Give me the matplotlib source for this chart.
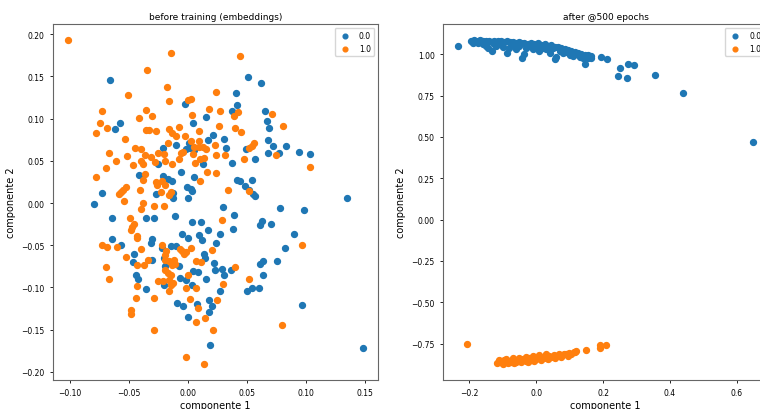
import numpy as np
import matplotlib
matplotlib.use("Agg")
import matplotlib.pyplot as plt

# before training: class 0.0 (blue) and 1.0 (orange)
before_x0 = [-0.0661, 0.0506, 0.0619, 0.0404, 0.0418, -0.0028, 0.0376, 0.065, 0.0155, 0.0042,
             -0.0573, -0.0613, 0.0667, 0.0686, 0.0212, 0.0169, 0.0308, 0.0681, 0.072, 0.0828,
             0.0319, -0.0209, -0.0099, 0.0006, 0.0014, -0.0014, 0.0051, 0.0494, 0.0681, 0.0771,
             0.0938, 0.1034, 0.0571, 0.037, 0.013, -0.0257, -0.0056, -0.0415, -0.0212, -0.0167,
             -0.0136, 0.0048, 0.0418, 0.0444, 0.054, 0.0486, 0.0514, 0.0548, 0.0565, -0.0008,
             0.0028, 0.0034, -0.0124, -0.0274, -0.013, -0.0003, -0.0723, -0.0799, 0.135, 0.0294,
             0.0782, 0.0983, -0.0644, -0.0353, -0.0288, -0.0107, 0.039, 0.0037, 0.011, 0.0624,
             0.0607, 0.0706, 0.0384, 0.0167, -0.0048, 0.0268, -0.0003, 0.0093, 0.0116, -0.0641,
             -0.0568, -0.0302, -0.0311, 0.024, 0.0901, 0.0822, -0.0147, -0.0102, -0.0223, -0.0455,
             -0.0463, -0.0308, -0.0201, 0.0138, 0.0144, 0.0223, 0.0607, 0.0633, 0.0757, -0.0195,
             -0.0079, 0.004, 0.0085, 0.0232, 0.0291, 0.0364, 0.0308, 0.0633, -0.0438, -0.0424,
             -0.0065, 0.0155, -0.002, -0.0203, 0.0031, -0.0356, 0.0268, 0.05, 0.0545, 0.0599,
             -0.009, -0.004, 0.0076, 0.0175, 0.0206, 0.0969, 0.0175, 0.0003, 0.0184, 0.1483]
before_y0 = [0.1455, 0.1495, 0.1418, 0.1307, 0.1165, 0.1173, 0.109, 0.1086, 0.1023, 0.0952,
             0.0952, 0.0873, 0.0972, 0.0889, 0.0802, 0.075, 0.0762, 0.075, 0.0671, 0.0675,
             0.0656, 0.0648, 0.0687, 0.0711, 0.0656, 0.0636, 0.0624, 0.0636, 0.0592, 0.0592,
             0.0604, 0.0577, 0.0521, 0.0478, 0.0458, 0.0458, 0.0367, 0.0328, 0.032, 0.0288,
             0.0265, 0.0308, 0.0276, 0.0261, 0.0276, 0.0205, 0.0158, 0.0103, 0.0079, 0.019,
             0.0162, 0.0138, 0.0122, 0.0107, 0.0059, 0.0059, 0.0115, -0.0008, 0.0059, -0.0051,
             -0.0063, -0.0083, -0.0174, -0.0174, -0.0174, -0.0154, -0.0146, -0.0229, -0.0229, -0.0209,
             -0.0257, -0.0245, -0.0304, -0.032, -0.0363, -0.0363, -0.0419, -0.0383, -0.0434, -0.043,
             -0.0502, -0.043, -0.047, -0.047, -0.0363, -0.0537, -0.0509, -0.0509, -0.0533, -0.0608,
             -0.0699, -0.0671, -0.0648, -0.0608, -0.0652, -0.0711, -0.0727, -0.0691, -0.0691, -0.0746,
             -0.0746, -0.081, -0.0818, -0.079, -0.0786, -0.0794, -0.0849, -0.0853, -0.0849, -0.0901,
             -0.0885, -0.0897, -0.0916, -0.0976, -0.0968, -0.1023, -0.1043, -0.1039, -0.1007, -0.1007,
             -0.1189, -0.122, -0.1201, -0.1153, -0.1216, -0.1212, -0.1291, -0.1351, -0.1686, -0.1722]

before_x1 = [-0.1017, -0.0141, 0.0443, -0.035, -0.0181, 0.0237, -0.0508, -0.0158, 0.0003, 0.0025,
             0.0178, -0.0353, -0.0726, 0.0274, 0.0427, 0.0712, 0.0037, -0.0415, -0.0308, 0.0387,
             -0.074, -0.0686, -0.0774, 0.0805, 0.026, -0.0356, -0.0333, -0.0268, -0.0164, -0.0079,
             -0.0136, 0.0096, 0.0395, 0.0446, -0.0099, -0.0023, -0.0531, -0.0167, 0.0028, 0.0093,
             0.0556, 0.054, 0.0514, -0.0449, -0.0401, 0.0093, 0.0048, 0.0124, 0.0232, 0.0153,
             -0.0664, -0.0254, -0.0062, -0.004, -0.0514, -0.0367, -0.0206, 0.0042, 0.0237, 0.0316,
             0.0749, -0.061, -0.0395, -0.0316, -0.0277, -0.0195, -0.0079, 0.0099, 0.0133, 0.0477,
             -0.0463, -0.0376, -0.0133, 0.0059, -0.0692, 0.1031, 0.0161, 0.024, -0.0364, -0.0384,
             -0.0274, -0.0218, 0.0102, -0.0782, -0.0263, -0.0192, -0.0528, -0.0551, -0.0568, -0.0585,
             -0.0404, -0.0229, -0.0141, -0.0158, 0.0342, 0.0517, -0.0545, -0.0384, -0.0393, -0.0291,
             -0.0203, 0.0285, -0.0494, -0.0458, -0.0472, -0.0483, -0.0429, -0.0435, -0.0729, -0.0684,
             -0.0596, 0.0966, -0.0395, -0.0218, -0.0068, -0.0048, -0.002, -0.0034, 0.0025, 0.0203,
             -0.0184, -0.0192, -0.0528, -0.0342, -0.0192, -0.0161, -0.0121, -0.0435, -0.0373, -0.0692,
             -0.0136, -0.0113, 0.0071, 0.0107, 0.0398, -0.0198, -0.0169, -0.0141, 0.0003, -0.0669,
             0.052, -0.0251, -0.0209, -0.0161, -0.0127, -0.0141, 0.0299, -0.0435, -0.0441, -0.0285,
             -0.0161, -0.0017, 0.0071, 0.0014, 0.0243, 0.0085, -0.048, -0.048, 0.0147, 0.0068,
             0.0794, -0.0288, 0.0212, -0.0017, 0.0136]
before_y1 = [0.1927, 0.1781, 0.1742, 0.157, 0.1378, 0.1315, 0.128, 0.1212, 0.1224, 0.1228,
             0.1114, 0.1098, 0.109, 0.109, 0.1078, 0.1058, 0.1047, 0.1011, 0.1027, 0.1027,
             0.0944, 0.0889, 0.0825, 0.0912, 0.0908, 0.0869, 0.0869, 0.0849, 0.0881, 0.09,
             0.0829, 0.0857, 0.0885, 0.0841, 0.0794, 0.079, 0.0758, 0.0715, 0.0731, 0.0731,
             0.0715, 0.0679, 0.0656, 0.0648, 0.0636, 0.0667, 0.0663, 0.0663, 0.0683, 0.0636,
             0.0592, 0.0596, 0.0592, 0.0604, 0.0557, 0.0565, 0.0581, 0.0585, 0.0573, 0.0573,
             0.0573, 0.0498, 0.0498, 0.0545, 0.0486, 0.0498, 0.0525, 0.0525, 0.0533, 0.0517,
             0.0446, 0.0458, 0.0466, 0.047, 0.0415, 0.0427, 0.0367, 0.0359, 0.034, 0.0276,
             0.0249, 0.0265, 0.0257, 0.0304, 0.0209, 0.0217, 0.019, 0.0158, 0.0126, 0.0103,
             0.0154, 0.0134, 0.013, 0.0099, 0.0158, 0.0142, 0.002, 0.0, -0.0067, -0.004,
             -0.004, -0.0197, -0.0178, -0.0249, -0.0284, -0.032, -0.0387, -0.0411, -0.0494, -0.0525,
             -0.0521, -0.0502, -0.054, -0.0502, -0.0549, -0.0569, -0.0581, -0.0604, -0.0533, -0.0553,
             -0.0569, -0.0612, -0.064, -0.0675, -0.0675, -0.0687, -0.0679, -0.0738, -0.0738, -0.0762,
             -0.0738, -0.0723, -0.0687, -0.0695, -0.0754, -0.0798, -0.0825, -0.0857, -0.0857, -0.0897,
             -0.0897, -0.092, -0.0924, -0.0908, -0.0944, -0.0968, -0.0956, -0.0983, -0.1122, -0.1126,
             -0.1043, -0.1011, -0.1011, -0.1138, -0.1153, -0.1244, -0.1268, -0.1311, -0.1359, -0.1414,
             -0.1442, -0.1505, -0.1509, -0.1825, -0.1904]

# after 500 epochs
after_x0 = [-0.234, -0.195, -0.185, -0.175, -0.168, -0.158, -0.15, -0.14, -0.132, -0.125,
            -0.115, -0.105, -0.095, -0.088, -0.078, -0.07, -0.06, -0.052, -0.045, -0.035,
            -0.025, -0.015, -0.005, 0.005, 0.015, 0.025, 0.035, 0.045, 0.055, 0.065,
            0.075, 0.085, 0.095, 0.105, 0.115, 0.125, 0.135, 0.145, 0.155, 0.165,
            -0.19, -0.175, -0.16, -0.15, -0.145, -0.131, -0.12, -0.11, -0.1, -0.088,
            -0.08, -0.07, -0.06, -0.05, -0.041, -0.035, -0.03, -0.02, -0.01, 0.0,
            0.01, 0.02, 0.03, 0.04, 0.05, 0.057, 0.06, 0.07, 0.08, 0.09,
            0.1, 0.11, 0.12, 0.13, 0.14, 0.147, 0.155, 0.165, -0.125, -0.065,
            0.015, 0.045, 0.194, 0.211, 0.251, 0.246, 0.276, 0.293, 0.271, 0.356,
            0.44, 0.649]
after_y0 = [1.05, 1.082, 1.084, 1.08, 1.083, 1.078, 1.081, 1.079, 1.076, 1.082,
            1.078, 1.081, 1.075, 1.079, 1.072, 1.076, 1.07, 1.074, 1.066, 1.07,
            1.064, 1.068, 1.062, 1.066, 1.058, 1.06, 1.052, 1.055, 1.046, 1.042,
            1.036, 1.03, 1.026, 1.018, 1.012, 1.006, 1.002, 0.998, 0.994, 0.99,
            1.07, 1.066, 1.06, 1.052, 1.04, 1.018, 1.05, 1.062, 1.045, 1.008,
            1.04, 1.055, 1.03, 1.048, 0.978, 1.0, 1.04, 1.05, 1.03, 1.045,
            1.02, 1.04, 1.03, 1.01, 1.035, 0.968, 0.985, 1.02, 1.005, 1.012,
            0.998, 0.99, 1.0, 0.985, 0.975, 0.942, 0.978, 0.98, 1.062, 1.062,
            1.048, 1.04, 0.984, 0.968, 0.914, 0.866, 0.938, 0.932, 0.858, 0.874,
            0.768, 0.467]

after_x1 = [-0.2075, -0.116, -0.108, -0.1, -0.095, -0.088, -0.08, -0.075, -0.068, -0.06,
            -0.052, -0.045, -0.038, -0.03, -0.022, -0.015, -0.008, 0.0, 0.008, 0.015,
            0.022, 0.03, 0.038, 0.045, 0.052, 0.06, 0.068, 0.075, 0.082, 0.09,
            0.098, 0.105, 0.112, 0.117, 0.118, -0.11, -0.09, -0.07, -0.05, -0.03,
            -0.01, 0.01, 0.03, -0.1, -0.085, -0.065, -0.045, -0.025, -0.005, 0.015,
            0.035, 0.055, 0.075, 0.095, 0.15, 0.19, 0.191, 0.208]
after_y1 = [-0.755, -0.868, -0.858, -0.865, -0.85, -0.86, -0.852, -0.862, -0.848, -0.858,
            -0.845, -0.856, -0.843, -0.852, -0.838, -0.848, -0.835, -0.845, -0.832, -0.84,
            -0.828, -0.836, -0.824, -0.832, -0.82, -0.826, -0.815, -0.822, -0.81, -0.815,
            -0.804, -0.81, -0.798, -0.803, -0.792, -0.848, -0.842, -0.838, -0.835, -0.832,
            -0.826, -0.82, -0.815, -0.872, -0.868, -0.866, -0.862, -0.858, -0.855, -0.85,
            -0.845, -0.838, -0.832, -0.825, -0.789, -0.761, -0.775, -0.759]

labels = ["0.0", "1.0"]
titles = ["before training (embeddings)", "after @500 epochs"]

plt.rcParams["font.size"] = 6

fig = plt.figure(figsize=(7.6, 4.1), dpi=100)
ax1 = fig.add_axes([0.0697, 0.0707, 0.4276, 0.868])
ax2 = fig.add_axes([0.583, 0.0707, 0.4276, 0.868])

panels = [(ax1, before_x0, before_y0, before_x1, before_y1),
          (ax2, after_x0, after_y0, after_x1, after_y1)]

for i, (ax, x0, y0, x1, y1) in enumerate(panels):
    ax.scatter(x0, y0, s=18, color="#1f77b4", label=labels[0])
    ax.scatter(x1, y1, s=18, color="#ff7f0e", label=labels[1])
    ax.set_title(titles[i], fontsize=6.5, pad=4)
    ax.set_xlabel("componente 1", fontsize=7, labelpad=2)
    ax.set_ylabel("componente 2", fontsize=7)
    ax.tick_params(labelsize=5.5, length=2.5, width=0.6)
    for sp in ax.spines.values():
        sp.set_linewidth(0.8)
        sp.set_color("#666666")
    ax.legend(loc="upper right", fontsize=5.5, markerscale=0.8)

ax1.set_xticks(np.arange(-0.10, 0.151, 0.05))
ax1.set_yticks(np.arange(-0.20, 0.201, 0.05))
ax2.set_xticks([-0.2, 0.0, 0.2, 0.4, 0.6])
ax2.set_yticks(np.arange(-0.75, 1.01, 0.25))

fig.savefig("out.png", dpi=100)
